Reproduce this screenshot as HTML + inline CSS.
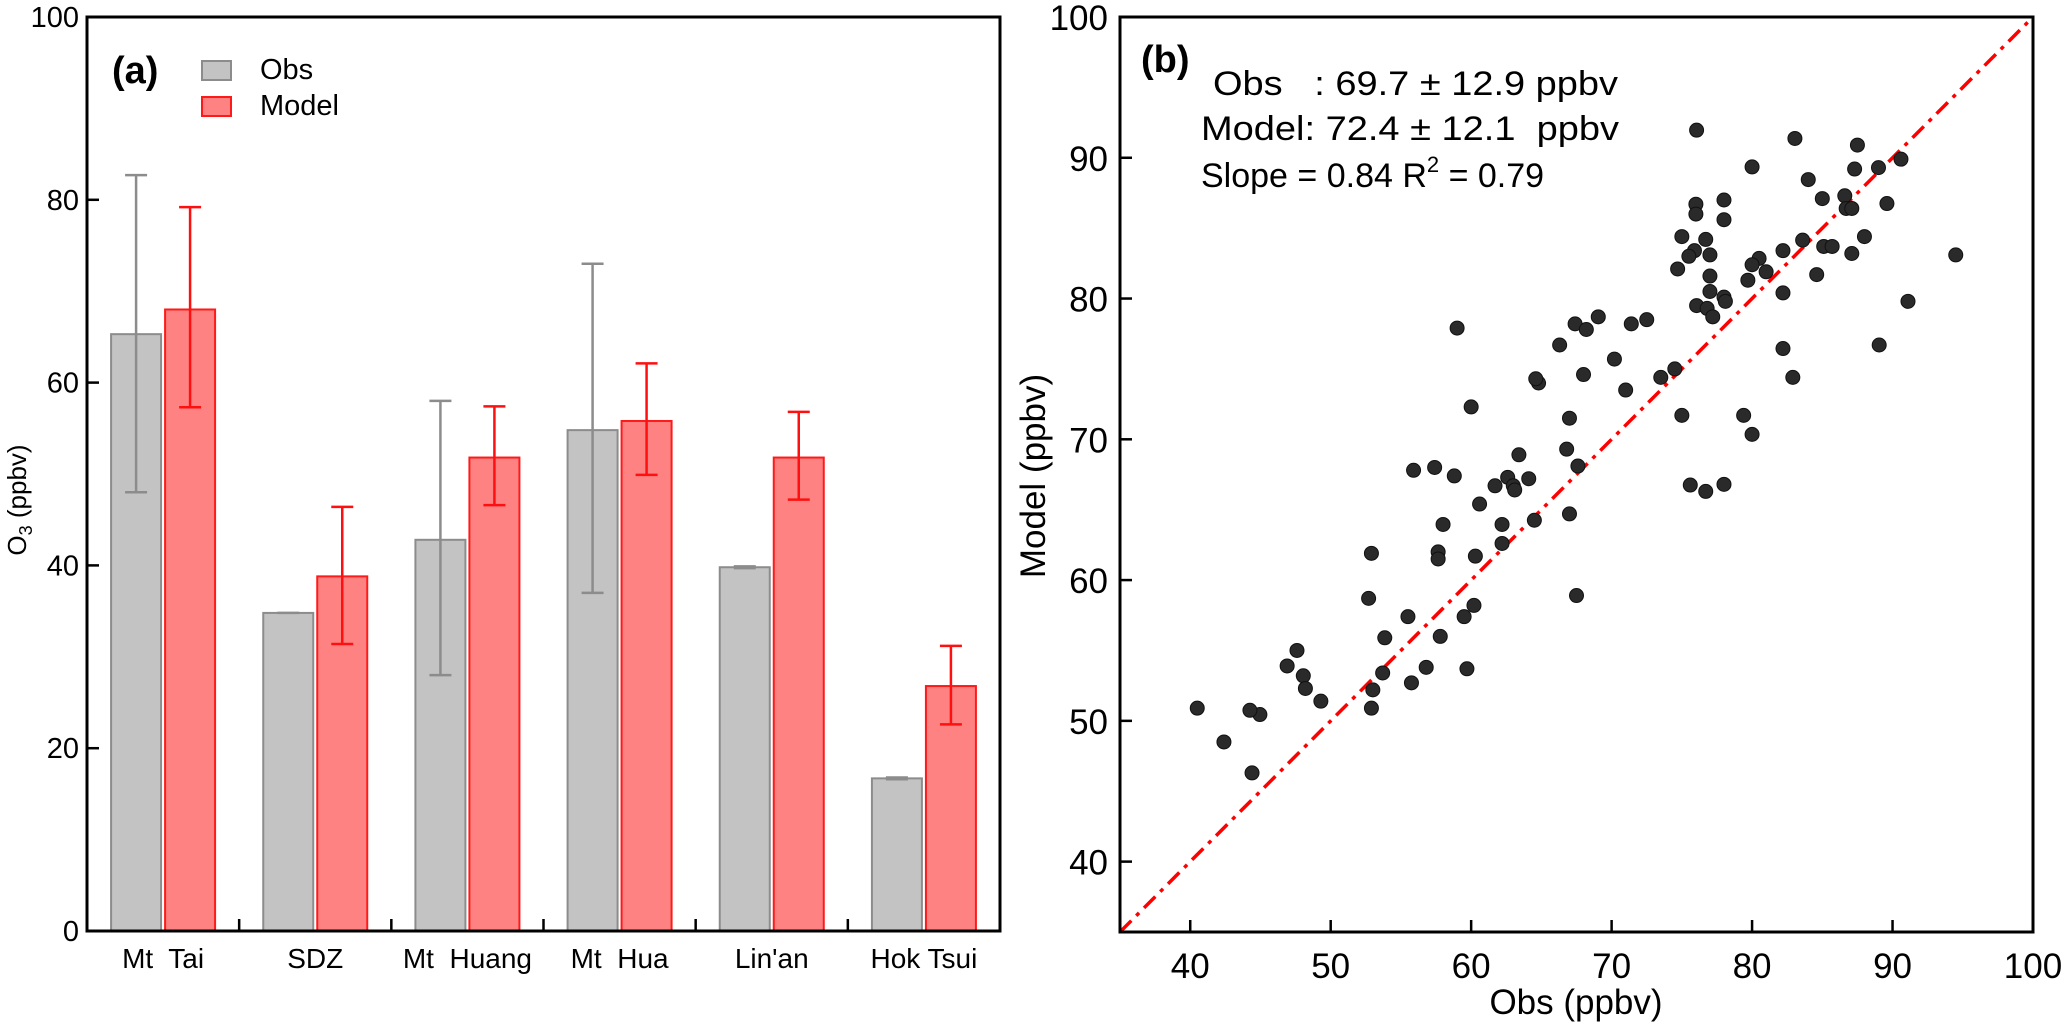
<!DOCTYPE html>
<html><head><meta charset="utf-8"><style>
html,body{margin:0;padding:0;background:#fff;}
svg{display:block;font-family:"Liberation Sans",Arial,sans-serif;}
text{white-space:pre;}
</style></head><body>
<svg id="fig" width="2067" height="1024" viewBox="0 0 2067 1024" xmlns="http://www.w3.org/2000/svg">
<g id="pa"></g>
<g id="pb"></g>
</svg>
<script>
// ---- Panel (a) data ----
const sites = ["Mt  Tai","SDZ","Mt  Huang","Mt  Hua","Lin'an","Hok Tsui"];
const obsMean = [65.3,34.8,42.8,54.8,39.8,16.7];
const obsLow  = [48.0,34.8,28.0,37.0,39.7,16.6];
const obsHigh = [82.7,34.8,58.0,73.0,39.9,16.8];
const modMean = [68.0,38.8,51.8,55.8,51.8,26.8];
const modLow  = [57.3,31.4,46.6,49.9,47.2,22.6];
const modHigh = [79.2,46.4,57.4,62.1,56.8,31.2];
const aTicks = [0,20,40,60,80,100];
// ---- Panel (b) data ----
const scObs = [76.05,83.05,87.5,80.0,87.3,89.0,90.6,84.0,76.0,76.0,78.0,78.0,85.0,86.6,86.7,87.1,89.6,75.0,76.7,75.9,75.5,77.0,74.7,83.6,82.2,80.5,80.0,81.0,79.7,85.1,85.7,88.0,87.1,94.5,84.6,77.0,77.0,76.05,76.8,78.0,78.1,77.2,82.2,91.1,89.05,82.2,82.9,67.4,68.2,69.05,71.4,72.5,66.3,70.2,68.0,71.0,73.5,74.5,67.0,75.0,79.4,80.0,66.8,67.6,75.6,76.7,78.0,67.0,
64.8,60.0,63.4,55.9,57.4,58.8,61.7,62.6,63.0,64.1,63.1,60.6,58.0,62.2,64.5,62.2,52.9,57.65,57.65,60.3,67.5,52.7,55.5,60.2,59.5,53.85,57.8,47.6,46.9,48.05,48.2,49.3,53.7,56.8,59.7,53.0,55.75,52.9,44.96,44.25,44.4,40.5,42.4,59.0,64.6];
const scMod = [91.96,91.37,90.9,89.35,89.2,89.3,89.9,88.45,86.7,86.0,87.0,85.6,87.1,87.3,86.4,86.4,86.75,84.4,84.2,83.4,83.0,83.1,82.1,84.15,83.4,82.85,82.4,81.9,81.3,83.7,83.7,84.4,83.2,83.1,81.7,81.6,80.5,79.5,79.3,80.1,79.8,78.7,80.4,79.8,76.7,76.45,74.4,78.2,77.8,78.7,78.2,78.5,76.7,75.7,74.6,73.5,74.4,75.0,71.5,71.7,71.7,70.35,69.3,68.1,66.75,66.3,66.8,64.7,
74.0,72.3,68.9,67.8,68.0,67.4,66.7,67.3,66.7,67.2,66.4,65.4,63.95,63.95,64.25,62.6,61.9,62.0,61.5,61.7,58.9,58.7,57.4,58.2,57.4,55.9,56.0,55.0,53.9,53.2,52.3,51.4,53.4,53.8,53.7,52.2,52.7,50.9,50.45,50.75,46.3,50.9,48.5,77.9,74.3];
const bTicks = [40,50,60,70,80,90,100];

const NS="http://www.w3.org/2000/svg";
function mk(parent,tag,attrs,text){const e=document.createElementNS(NS,tag);for(const k in attrs)e.setAttribute(k,attrs[k]);if(text!==undefined)e.textContent=text;parent.appendChild(e);return e;}

// ---------- Panel A ----------
const pa=document.getElementById('pa');
const aL=87,aR=1000,aT=17,aB=931;
const ay=v=>aB-(v/100)*(aB-aT);
const gw=(aR-aL)/sites.length;
const gx=i=>aL+gw*(i+0.5);
const bw=50;
sites.forEach((s,i)=>{
  const cx=gx(i);
  const ob=mk(pa,'rect',{x:cx-27-bw/2,y:ay(obsMean[i]),width:bw,height:aB-ay(obsMean[i]),fill:'#c3c3c3',stroke:'#8c8c8c','stroke-width':2});
  
  
  const oe=mk(pa,'path',{d:`M${cx-27},${ay(obsLow[i])}V${ay(obsHigh[i])}M${cx-38},${ay(obsHigh[i])}H${cx-16}M${cx-38},${ay(obsLow[i])}H${cx-16}`,stroke:'#8c8c8c','stroke-width':2.5,fill:'none'});
  
  
  const mb=mk(pa,'rect',{x:cx+27-bw/2,y:ay(modMean[i]),width:bw,height:aB-ay(modMean[i]),fill:'#ff8282',stroke:'#ff1a1a','stroke-width':2});
  
  
  const me=mk(pa,'path',{d:`M${cx+27},${ay(modLow[i])}V${ay(modHigh[i])}M${cx+16},${ay(modHigh[i])}H${cx+38}M${cx+16},${ay(modLow[i])}H${cx+38}`,stroke:'#ff1010','stroke-width':2.5,fill:'none'});
  
  
  const lb=mk(pa,'text',{x:cx,y:968,'font-size':28,'text-anchor':'middle'},s);
  
  
  if(i>0){const t=mk(pa,'line',{x1:aL+gw*i,x2:aL+gw*i,y1:aB,y2:aB-12,stroke:'#000','stroke-width':2.5});
  
  }
});
aTicks.forEach(v=>{
  const t=mk(pa,'line',{x1:aL,x2:aL+12,y1:ay(v),y2:ay(v),stroke:'#000','stroke-width':2.5});
  
  
  const l=mk(pa,'text',{x:79,y:ay(v)+10,'font-size':29,'text-anchor':'end'},String(v));
  
  
});
const fa=mk(pa,'rect',{x:aL,y:aT,width:aR-aL,height:aB-aT,fill:'none',stroke:'#000','stroke-width':3});


const yta=mk(pa,'text',{transform:'translate(26,500) rotate(-90)','font-size':26,'text-anchor':'middle'});


yta.innerHTML='O<tspan font-size="18" dy="6">3</tspan><tspan dy="-6"> (ppbv)</tspan>';
const pla=mk(pa,'text',{x:112,y:83,'font-size':38,'font-weight':'bold'},'(a)');


const lg1=mk(pa,'rect',{x:202,y:61,width:29,height:19,fill:'#c3c3c3',stroke:'#8c8c8c','stroke-width':2});


const lt1=mk(pa,'text',{x:260,y:79,'font-size':29},'Obs');


const lg2=mk(pa,'rect',{x:202,y:97,width:29,height:19,fill:'#ff8282',stroke:'#ff1a1a','stroke-width':2});


const lt2=mk(pa,'text',{x:260,y:115,'font-size':29},'Model');



// ---------- Panel B ----------
const pb=document.getElementById('pb');
const bL=1120,bR=2033,bT=17,bB=932,bMin=35,bMax=100;
const bx=v=>bL+(v-bMin)/(bMax-bMin)*(bR-bL);
const by=v=>bB-(v-bMin)/(bMax-bMin)*(bB-bT);
const dl=mk(pb,'line',{x1:bx(35),y1:by(35),x2:bx(100),y2:by(100),stroke:'#ff0000','stroke-width':3.5,'stroke-dasharray':'16 7 4 7'});


scObs.forEach((o,i)=>{
  const c=mk(pb,'circle',{cx:bx(o),cy:by(scMod[i]),r:7,fill:'#2a2a2a',stroke:'#111','stroke-width':1});
  
  
});
bTicks.forEach(v=>{
  if(v<100){
  const t=mk(pb,'line',{x1:bL,x2:bL+12,y1:by(v),y2:by(v),stroke:'#000','stroke-width':2.5});
  
  
  const t2=mk(pb,'line',{x1:bx(v),x2:bx(v),y1:bB,y2:bB-12,stroke:'#000','stroke-width':2.5});
  
  }
  const l=mk(pb,'text',{x:1108,y:by(v)+13,'font-size':35,'text-anchor':'end'},String(v));
  
  
  const l2=mk(pb,'text',{x:bx(v),y:978,'font-size':35,'text-anchor':'middle'},String(v));
  
  
});
const fb=mk(pb,'rect',{x:bL,y:bT,width:bR-bL,height:bB-bT,fill:'none',stroke:'#000','stroke-width':3});


const ytb=mk(pb,'text',{transform:'translate(1045,476) rotate(-90)','font-size':35,'text-anchor':'middle'},'Model (ppbv)');


const xtb=mk(pb,'text',{x:1576,y:1014,'font-size':35,'text-anchor':'middle'},'Obs (ppbv)');


const plb=mk(pb,'text',{x:1141,y:72,'font-size':38,'font-weight':'bold'},'(b)');


const s1=mk(pb,'text',{x:1213,y:95,'font-size':34,textLength:405,lengthAdjust:'spacingAndGlyphs'},'Obs   : 69.7 ± 12.9 ppbv');


const s2=mk(pb,'text',{x:1201,y:140,'font-size':34,textLength:418,lengthAdjust:'spacingAndGlyphs'},'Model: 72.4 ± 12.1  ppbv');


const s3=mk(pb,'text',{x:1201,y:187,'font-size':34});


s3.innerHTML='Slope = 0.84 R<tspan font-size="22" dy="-15">2</tspan><tspan dy="15"> = 0.79</tspan>';
</script>
</body></html>
